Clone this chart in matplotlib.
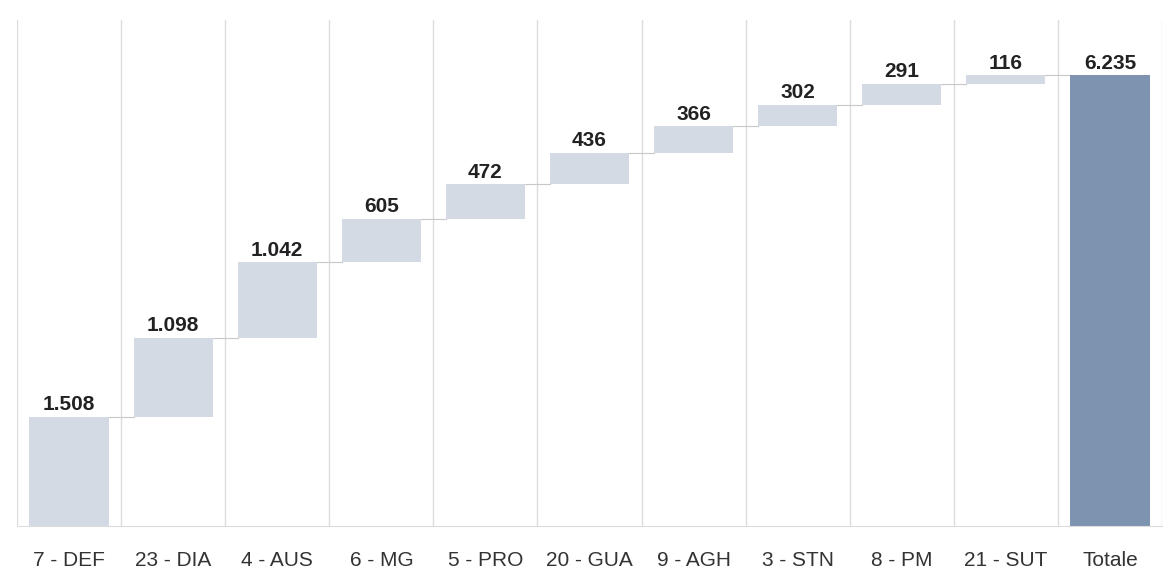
import numpy as np
import matplotlib.pyplot as plt

plt.rcParams['font.family'] = ['Liberation Sans', 'DejaVu Sans']

# Categories and contributions (waterfall)
categories = ["7 - DEF", "23 - DIA", "4 - AUS", "6 - MG", "5 - PRO", "20 - GUA",
              "9 - AGH", "3 - STN", "8 - PM", "21 - SUT"]
values = [1508, 1098, 1042, 605, 472, 436, 366, 302, 291, 116]
total_label = "Totale"
total_value = 6235

light = "#D3DAE4"
dark = "#7D93AF"
grid_col = "#DCDCDC"


def fmt(v):
    return f"{v:,}".replace(",", ".")


fig = plt.figure(figsize=(11.7, 5.78), dpi=100)
ax = fig.add_axes([17 / 1170, 52 / 578, 1145 / 1170, 506 / 578])

labels = categories + [total_label]
n = len(labels)
x = np.arange(n)
width = 0.76

starts = np.concatenate([[0], np.cumsum(values)[:-1]])
ax.bar(x[:-1], values, bottom=starts, width=width, color=light, zorder=2)
ax.bar(x[-1], total_value, width=width, color=dark, zorder=2)

# connectors between bars
ends = starts + np.array(values)
for i in range(len(values)):
    nxt_left = x[i + 1] - width / 2
    ax.plot([x[i] + width / 2, nxt_left], [ends[i], ends[i]],
            color="#C8C8C8", lw=0.8, zorder=1)

# value labels
for i, v in enumerate(values):
    ax.text(x[i], ends[i] + 35, fmt(v), ha="center", va="bottom",
            fontsize=15, fontweight="bold", color="#222222")
ax.text(x[-1], total_value + 35, fmt(total_value), ha="center", va="bottom",
        fontsize=15, fontweight="bold", color="#222222")

# vertical separators
for b in np.arange(n + 1) - 0.5:
    ax.axvline(b, color=grid_col, lw=1, zorder=0)

ax.set_xlim(-0.5, n - 0.5)
ax.set_ylim(0, 7000)
ax.set_xticks(x)
ax.set_xticklabels(labels, fontsize=15, color="#333333")
ax.tick_params(axis="x", length=0, pad=18)
ax.set_yticks([])
for s in ["top", "right", "left"]:
    ax.spines[s].set_visible(False)
ax.spines["bottom"].set_color(grid_col)

fig.savefig("out.png", dpi=100)
